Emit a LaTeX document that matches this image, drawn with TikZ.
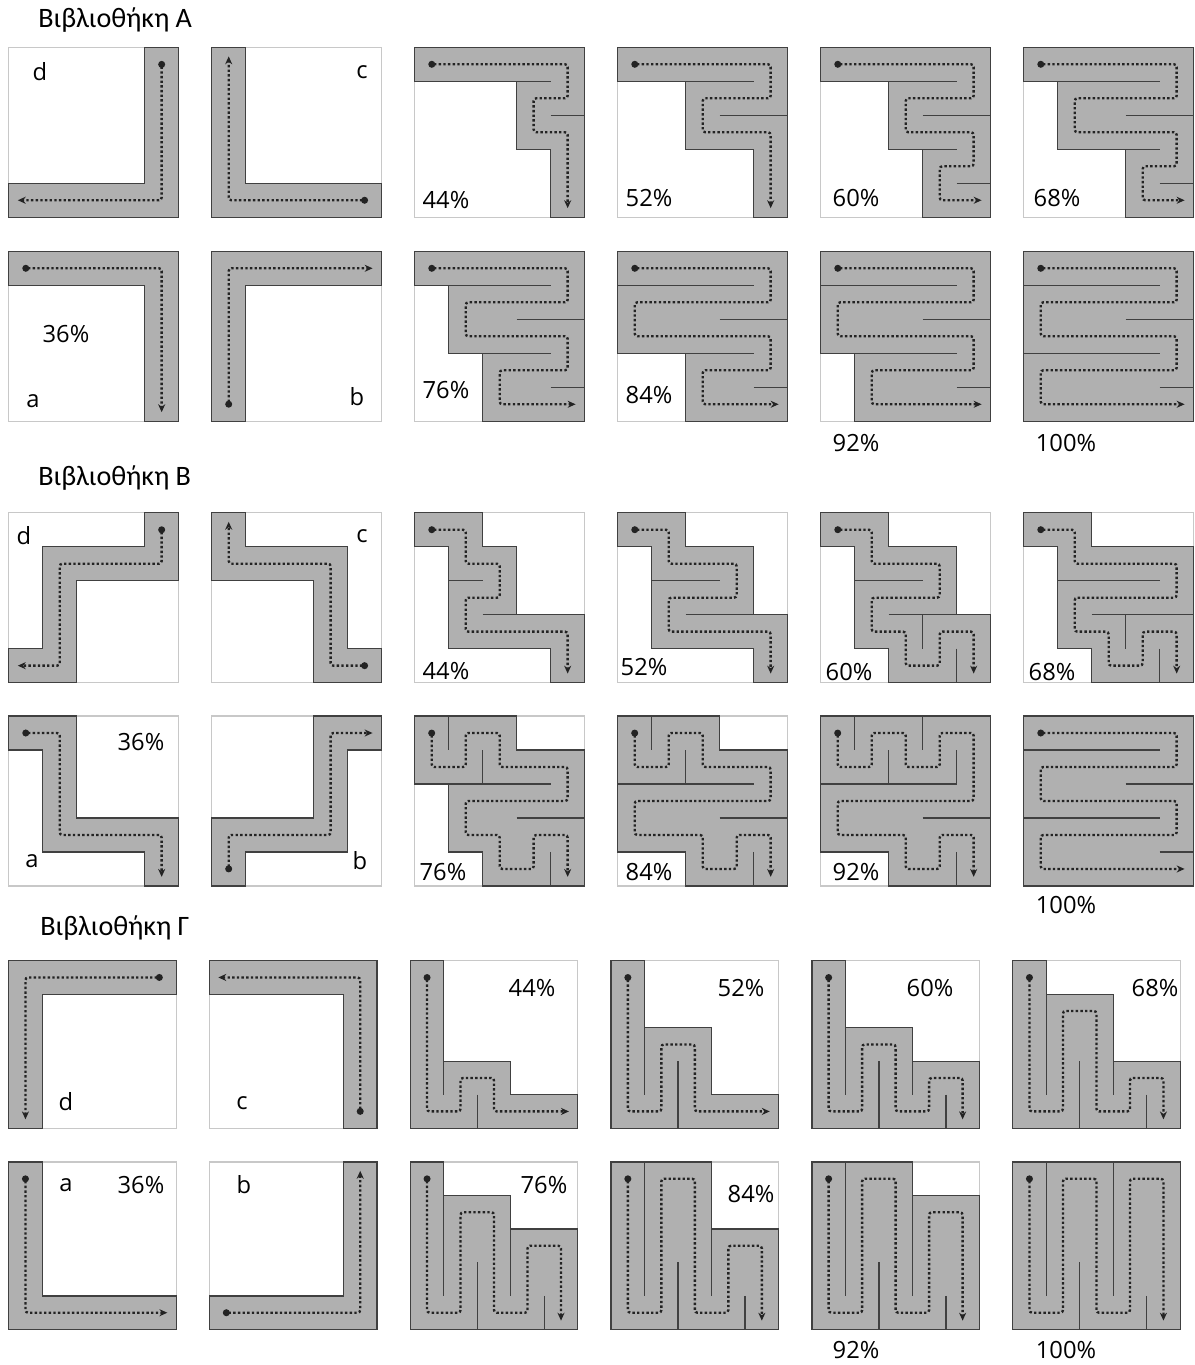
\documentclass[tikz,border=0pt]{standalone}
\usepackage{fontspec}
\setmainfont{Open Sans}
\newfontfamily\headfont{Carlito}
\usetikzlibrary{arrows.meta}

\definecolor{mazegray}{RGB}{176,176,176}
\definecolor{walldark}{RGB}{64,64,64}
\definecolor{framegray}{RGB}{200,200,200}
\definecolor{routedark}{RGB}{35,35,35}

% one 5x5 panel: #1 top-left corner, #2 cell size, #3 filled region, #4 walls, #5 route
\newcommand{\mazepanel}[5]{%
  \begin{scope}[shift={#1}]
  \begin{scope}[x=#2, y=-#2]
    \draw[panelframe] (0,0) rectangle (5,5);
    \filldraw[region] #3;
    \draw[wall] #4;
    \draw[route] #5;
  \end{scope}
  \end{scope}}

\begin{document}
\begin{tikzpicture}[x=0.02cm, y=-0.02cm,
    panelframe/.style={draw=framegray, line width=0.6pt},
    region/.style={fill=mazegray, draw=walldark, line width=0.75pt},
    wall/.style={draw=walldark, line width=0.75pt},
    route/.style={draw=routedark, line width=1.35pt, dash pattern=on 1.35pt off 1.3pt,
        rounded corners=1.5pt, {Circle[length=3.9pt]}-{Stealth[length=4.5pt, width=4pt]},
        shorten >=-4.5pt, shorten <=-1.9pt},
    pct/.style={font=\fontsize{13.5}{16}\selectfont, inner sep=0pt},
    libtitle/.style={font=\headfont\fontsize{16}{19}\selectfont, anchor=west, inner sep=0pt},
]
\useasboundingbox (0,0) rectangle (1195,1365);

% Library A, top row
\node[libtitle] (titleA) at (38,20) {Βιβλιοθήκη Α};
\mazepanel{(8.7,47.3)}{0.68cm}
  {(4,0) -- (5,0) -- (5,5) -- (0,5) -- (0,4) -- (4,4) -- cycle}{}
  {(4.5,.5) -- (4.5,4.5) -- (.5,4.5)}
\mazepanel{(211.7,47.3)}{0.68cm}
  {(0,0) -- (1,0) -- (1,4) -- (5,4) -- (5,5) -- (0,5) -- cycle}{}
  {(4.5,4.5) -- (.5,4.5) -- (.5,.5)}
\mazepanel{(414.7,47.3)}{0.68cm}
  {(0,0) -- (5,0) -- (5,5) -- (4,5) -- (4,3) -- (3,3) -- (3,1) -- (0,1) -- cycle}
  {(3,1) -- (4,1) (4,2) -- (5,2)}
  {(.5,.5) -- (4.5,.5) -- (4.5,1.5) -- (3.5,1.5) -- (3.5,2.5) -- (4.5,2.5) -- (4.5,4.5)}
\mazepanel{(617.7,47.3)}{0.68cm}
  {(0,0) -- (5,0) -- (5,5) -- (4,5) -- (4,3) -- (2,3) -- (2,1) -- (0,1) -- cycle}
  {(2,1) -- (4,1) (3,2) -- (5,2)}
  {(.5,.5) -- (4.5,.5) -- (4.5,1.5) -- (2.5,1.5) -- (2.5,2.5) -- (4.5,2.5) -- (4.5,4.5)}
\mazepanel{(820.7,47.3)}{0.68cm}
  {(0,0) -- (5,0) -- (5,5) -- (3,5) -- (3,3) -- (2,3) -- (2,1) -- (0,1) -- cycle}
  {(2,1) -- (4,1) (3,2) -- (5,2) (3,3) -- (4,3) (4,4) -- (5,4)}
  {(.5,.5) -- (4.5,.5) -- (4.5,1.5) -- (2.5,1.5) -- (2.5,2.5) -- (4.5,2.5) -- (4.5,3.5) -- (3.5,3.5) -- (3.5,4.5) -- (4.5,4.5)}
\mazepanel{(1023.7,47.3)}{0.68cm}
  {(0,0) -- (5,0) -- (5,5) -- (3,5) -- (3,3) -- (1,3) -- (1,1) -- (0,1) -- cycle}
  {(1,1) -- (4,1) (3,2) -- (5,2) (3,3) -- (4,3) (4,4) -- (5,4)}
  {(.5,.5) -- (4.5,.5) -- (4.5,1.5) -- (1.5,1.5) -- (1.5,2.5) -- (4.5,2.5) -- (4.5,3.5) -- (3.5,3.5) -- (3.5,4.5) -- (4.5,4.5)}
\node[pct] (Ad) at (40,72) {d};
\node[pct] (Ac) at (362,72) {c};
\node[pct] (A44) at (446,200) {44\%};
\node[pct] (A52) at (649,198) {52\%};
\node[pct] (A60) at (856,198) {60\%};
\node[pct] (A68) at (1057,198) {68\%};

% Library A, bottom row
\mazepanel{(8.7,251.3)}{0.68cm}
  {(0,0) -- (5,0) -- (5,5) -- (4,5) -- (4,1) -- (0,1) -- cycle}{}
  {(.5,.5) -- (4.5,.5) -- (4.5,4.5)}
\mazepanel{(211.7,251.3)}{0.68cm}
  {(0,0) -- (5,0) -- (5,1) -- (1,1) -- (1,5) -- (0,5) -- cycle}{}
  {(.5,4.5) -- (.5,.5) -- (4.5,.5)}
\mazepanel{(414.7,251.3)}{0.68cm}
  {(0,0) -- (5,0) -- (5,5) -- (2,5) -- (2,3) -- (1,3) -- (1,1) -- (0,1) -- cycle}
  {(1,1) -- (4,1) (3,2) -- (5,2) (2,3) -- (4,3) (4,4) -- (5,4)}
  {(.5,.5) -- (4.5,.5) -- (4.5,1.5) -- (1.5,1.5) -- (1.5,2.5) -- (4.5,2.5) -- (4.5,3.5) -- (2.5,3.5) -- (2.5,4.5) -- (4.5,4.5)}
\mazepanel{(617.7,251.3)}{0.68cm}
  {(0,0) -- (5,0) -- (5,5) -- (2,5) -- (2,3) -- (0,3) -- cycle}
  {(0,1) -- (4,1) (3,2) -- (5,2) (2,3) -- (4,3) (4,4) -- (5,4)}
  {(.5,.5) -- (4.5,.5) -- (4.5,1.5) -- (.5,1.5) -- (.5,2.5) -- (4.5,2.5) -- (4.5,3.5) -- (2.5,3.5) -- (2.5,4.5) -- (4.5,4.5)}
\mazepanel{(820.7,251.3)}{0.68cm}
  {(0,0) -- (5,0) -- (5,5) -- (1,5) -- (1,3) -- (0,3) -- cycle}
  {(0,1) -- (4,1) (3,2) -- (5,2) (1,3) -- (4,3) (4,4) -- (5,4)}
  {(.5,.5) -- (4.5,.5) -- (4.5,1.5) -- (.5,1.5) -- (.5,2.5) -- (4.5,2.5) -- (4.5,3.5) -- (1.5,3.5) -- (1.5,4.5) -- (4.5,4.5)}
\mazepanel{(1023.7,251.3)}{0.68cm}
  {(0,0) rectangle (5,5)}
  {(0,1) -- (4,1) (3,2) -- (5,2) (0,3) -- (4,3) (4,4) -- (5,4)}
  {(.5,.5) -- (4.5,.5) -- (4.5,1.5) -- (.5,1.5) -- (.5,2.5) -- (4.5,2.5) -- (4.5,3.5) -- (.5,3.5) -- (.5,4.5) -- (4.5,4.5)}
\node[pct] (A36) at (66,334) {36\%};
\node[pct] (Aa) at (33,401) {a};
\node[pct] (Ab) at (357,397) {b};
\node[pct] (A76) at (446,390) {76\%};
\node[pct] (A84) at (649,395) {84\%};
\node[pct] (A92) at (856,443) {92\%};
\node[pct] (A100) at (1066,443) {100\%};

% Library B, top row
\node[libtitle] (titleB) at (38,478) {Βιβλιοθήκη Β};
\mazepanel{(8.7,512.7)}{0.68cm}
  {(4,0) -- (5,0) -- (5,2) -- (2,2) -- (2,5) -- (0,5) -- (0,4) -- (1,4) -- (1,1) -- (4,1) -- cycle}{}
  {(4.5,.5) -- (4.5,1.5) -- (1.5,1.5) -- (1.5,4.5) -- (.5,4.5)}
\mazepanel{(211.7,512.7)}{0.68cm}
  {(0,0) -- (1,0) -- (1,1) -- (4,1) -- (4,4) -- (5,4) -- (5,5) -- (3,5) -- (3,2) -- (0,2) -- cycle}{}
  {(4.5,4.5) -- (3.5,4.5) -- (3.5,1.5) -- (.5,1.5) -- (.5,.5)}
\mazepanel{(414.7,512.7)}{0.68cm}
  {(0,0) -- (2,0) -- (2,1) -- (3,1) -- (3,3) -- (5,3) -- (5,5) -- (4,5) -- (4,4) -- (1,4) -- (1,1) -- (0,1) -- cycle}
  {(1,2) -- (2,2) (2,3) -- (3,3)}
  {(.5,.5) -- (1.5,.5) -- (1.5,1.5) -- (2.5,1.5) -- (2.5,2.5) -- (1.5,2.5) -- (1.5,3.5) -- (4.5,3.5) -- (4.5,4.5)}
\mazepanel{(617.7,512.7)}{0.68cm}
  {(0,0) -- (2,0) -- (2,1) -- (4,1) -- (4,3) -- (5,3) -- (5,5) -- (4,5) -- (4,4) -- (1,4) -- (1,1) -- (0,1) -- cycle}
  {(1,2) -- (3,2) (2,3) -- (4,3)}
  {(.5,.5) -- (1.5,.5) -- (1.5,1.5) -- (3.5,1.5) -- (3.5,2.5) -- (1.5,2.5) -- (1.5,3.5) -- (4.5,3.5) -- (4.5,4.5)}
\mazepanel{(820.7,512.7)}{0.68cm}
  {(0,0) -- (2,0) -- (2,1) -- (4,1) -- (4,3) -- (5,3) -- (5,5) -- (2,5) -- (2,4) -- (1,4) -- (1,1) -- (0,1) -- cycle}
  {(1,2) -- (3,2) (2,3) -- (4,3) (3,3) -- (3,4) (4,4) -- (4,5)}
  {(.5,.5) -- (1.5,.5) -- (1.5,1.5) -- (3.5,1.5) -- (3.5,2.5) -- (1.5,2.5) -- (1.5,3.5) -- (2.5,3.5) -- (2.5,4.5) -- (3.5,4.5) -- (3.5,3.5) -- (4.5,3.5) -- (4.5,4.5)}
\mazepanel{(1023.7,512.7)}{0.68cm}
  {(0,0) -- (2,0) -- (2,1) -- (5,1) -- (5,5) -- (2,5) -- (2,4) -- (1,4) -- (1,1) -- (0,1) -- cycle}
  {(1,2) -- (4,2) (2,3) -- (5,3) (3,3) -- (3,4) (4,4) -- (4,5)}
  {(.5,.5) -- (1.5,.5) -- (1.5,1.5) -- (4.5,1.5) -- (4.5,2.5) -- (1.5,2.5) -- (1.5,3.5) -- (2.5,3.5) -- (2.5,4.5) -- (3.5,4.5) -- (3.5,3.5) -- (4.5,3.5) -- (4.5,4.5)}
\node[pct] (Bd) at (24,536) {d};
\node[pct] (Bc) at (362,536) {c};
\node[pct] (B44) at (446,671) {44\%};
\node[pct] (B52) at (644,667) {52\%};
\node[pct] (B60) at (849,672) {60\%};
\node[pct] (B68) at (1052,672) {68\%};

% Library B, bottom row
\mazepanel{(8.7,716)}{0.68cm}
  {(0,0) -- (2,0) -- (2,3) -- (5,3) -- (5,5) -- (4,5) -- (4,4) -- (1,4) -- (1,1) -- (0,1) -- cycle}{}
  {(.5,.5) -- (1.5,.5) -- (1.5,3.5) -- (4.5,3.5) -- (4.5,4.5)}
\mazepanel{(211.7,716)}{0.68cm}
  {(0,3) -- (3,3) -- (3,0) -- (5,0) -- (5,1) -- (4,1) -- (4,4) -- (1,4) -- (1,5) -- (0,5) -- cycle}{}
  {(.5,4.5) -- (.5,3.5) -- (3.5,3.5) -- (3.5,.5) -- (4.5,.5)}
\mazepanel{(414.7,716)}{0.68cm}
  {(0,0) -- (3,0) -- (3,1) -- (5,1) -- (5,5) -- (2,5) -- (2,4) -- (1,4) -- (1,2) -- (0,2) -- cycle}
  {(1,0) -- (1,1) (2,1) -- (2,2) (1,2) -- (4,2) (3,3) -- (5,3) (4,4) -- (4,5)}
  {(.5,.5) -- (.5,1.5) -- (1.5,1.5) -- (1.5,.5) -- (2.5,.5) -- (2.5,1.5) -- (4.5,1.5) -- (4.5,2.5) -- (1.5,2.5) -- (1.5,3.5) -- (2.5,3.5) -- (2.5,4.5) -- (3.5,4.5) -- (3.5,3.5) -- (4.5,3.5) -- (4.5,4.5)}
\mazepanel{(617.7,716)}{0.68cm}
  {(0,0) -- (3,0) -- (3,1) -- (5,1) -- (5,5) -- (2,5) -- (2,4) -- (0,4) -- cycle}
  {(1,0) -- (1,1) (2,1) -- (2,2) (0,2) -- (4,2) (3,3) -- (5,3) (4,4) -- (4,5)}
  {(.5,.5) -- (.5,1.5) -- (1.5,1.5) -- (1.5,.5) -- (2.5,.5) -- (2.5,1.5) -- (4.5,1.5) -- (4.5,2.5) -- (.5,2.5) -- (.5,3.5) -- (2.5,3.5) -- (2.5,4.5) -- (3.5,4.5) -- (3.5,3.5) -- (4.5,3.5) -- (4.5,4.5)}
\mazepanel{(820.7,716)}{0.68cm}
  {(0,0) -- (5,0) -- (5,5) -- (2,5) -- (2,4) -- (0,4) -- cycle}
  {(1,0) -- (1,1) (3,0) -- (3,1) (2,1) -- (2,2) (4,1) -- (4,2) (0,2) -- (4,2) (3,3) -- (5,3) (4,4) -- (4,5)}
  {(.5,.5) -- (.5,1.5) -- (1.5,1.5) -- (1.5,.5) -- (2.5,.5) -- (2.5,1.5) -- (3.5,1.5) -- (3.5,.5) -- (4.5,.5) -- (4.5,2.5) -- (.5,2.5) -- (.5,3.5) -- (2.5,3.5) -- (2.5,4.5) -- (3.5,4.5) -- (3.5,3.5) -- (4.5,3.5) -- (4.5,4.5)}
\mazepanel{(1023.7,716)}{0.68cm}
  {(0,0) rectangle (5,5)}
  {(0,1) -- (4,1) (3,2) -- (5,2) (0,3) -- (4,3) (4,4) -- (5,4)}
  {(.5,.5) -- (4.5,.5) -- (4.5,1.5) -- (.5,1.5) -- (.5,2.5) -- (4.5,2.5) -- (4.5,3.5) -- (.5,3.5) -- (.5,4.5) -- (4.5,4.5)}
\node[pct] (B36) at (141,742) {36\%};
\node[pct] (Ba) at (32,861) {a};
\node[pct] (Bb) at (360,861) {b};
\node[pct] (B76) at (443,872) {76\%};
\node[pct] (B84) at (649,872) {84\%};
\node[pct] (B92) at (856,872) {92\%};
\node[pct] (B100) at (1066,905) {100\%};

% Library Gamma, top row
\node[libtitle] (titleG) at (40,928) {Βιβλιοθήκη Γ};
\mazepanel{(8.7,960.7)}{0.67cm}
  {(0,0) -- (5,0) -- (5,1) -- (1,1) -- (1,5) -- (0,5) -- cycle}{}
  {(4.5,.5) -- (.5,.5) -- (.5,4.5)}
\mazepanel{(209.5,960.7)}{0.67cm}
  {(0,0) -- (5,0) -- (5,5) -- (4,5) -- (4,1) -- (0,1) -- cycle}{}
  {(4.5,4.5) -- (4.5,.5) -- (.5,.5)}
\mazepanel{(410.3,960.7)}{0.67cm}
  {(0,0) -- (1,0) -- (1,3) -- (3,3) -- (3,4) -- (5,4) -- (5,5) -- (0,5) -- cycle}
  {(1,3) -- (1,4) (2,4) -- (2,5)}
  {(.5,.5) -- (.5,4.5) -- (1.5,4.5) -- (1.5,3.5) -- (2.5,3.5) -- (2.5,4.5) -- (4.5,4.5)}
\mazepanel{(611.1,960.7)}{0.67cm}
  {(0,0) -- (1,0) -- (1,2) -- (3,2) -- (3,4) -- (5,4) -- (5,5) -- (0,5) -- cycle}
  {(1,2) -- (1,4) (2,3) -- (2,5)}
  {(.5,.5) -- (.5,4.5) -- (1.5,4.5) -- (1.5,2.5) -- (2.5,2.5) -- (2.5,4.5) -- (4.5,4.5)}
\mazepanel{(811.9,960.7)}{0.67cm}
  {(0,0) -- (1,0) -- (1,2) -- (3,2) -- (3,3) -- (5,3) -- (5,5) -- (0,5) -- cycle}
  {(1,2) -- (1,4) (2,3) -- (2,5) (3,3) -- (3,4) (4,4) -- (4,5)}
  {(.5,.5) -- (.5,4.5) -- (1.5,4.5) -- (1.5,2.5) -- (2.5,2.5) -- (2.5,4.5) -- (3.5,4.5) -- (3.5,3.5) -- (4.5,3.5) -- (4.5,4.5)}
\mazepanel{(1012.7,960.7)}{0.67cm}
  {(0,0) -- (1,0) -- (1,1) -- (3,1) -- (3,3) -- (5,3) -- (5,5) -- (0,5) -- cycle}
  {(1,1) -- (1,4) (2,3) -- (2,5) (3,3) -- (3,4) (4,4) -- (4,5)}
  {(.5,.5) -- (.5,4.5) -- (1.5,4.5) -- (1.5,1.5) -- (2.5,1.5) -- (2.5,4.5) -- (3.5,4.5) -- (3.5,3.5) -- (4.5,3.5) -- (4.5,4.5)}
\node[pct] (Gd) at (66,1102) {d};
\node[pct] (Gc) at (242,1103) {c};
\node[pct] (G44) at (532,988) {44\%};
\node[pct] (G52) at (741,988) {52\%};
\node[pct] (G60) at (930,988) {60\%};
\node[pct] (G68) at (1155,988) {68\%};

% Library Gamma, bottom row
\mazepanel{(8.7,1162)}{0.67cm}
  {(0,0) -- (1,0) -- (1,4) -- (5,4) -- (5,5) -- (0,5) -- cycle}{}
  {(.5,.5) -- (.5,4.5) -- (4.5,4.5)}
\mazepanel{(209.5,1162)}{0.67cm}
  {(4,0) -- (5,0) -- (5,5) -- (0,5) -- (0,4) -- (4,4) -- cycle}{}
  {(.5,4.5) -- (4.5,4.5) -- (4.5,.5)}
\mazepanel{(410.3,1162)}{0.67cm}
  {(0,0) -- (1,0) -- (1,1) -- (3,1) -- (3,2) -- (5,2) -- (5,5) -- (0,5) -- cycle}
  {(1,1) -- (1,4) (2,3) -- (2,5) (3,2) -- (3,4) (4,4) -- (4,5)}
  {(.5,.5) -- (.5,4.5) -- (1.5,4.5) -- (1.5,1.5) -- (2.5,1.5) -- (2.5,4.5) -- (3.5,4.5) -- (3.5,2.5) -- (4.5,2.5) -- (4.5,4.5)}
\mazepanel{(611.1,1162)}{0.67cm}
  {(0,0) -- (3,0) -- (3,2) -- (5,2) -- (5,5) -- (0,5) -- cycle}
  {(1,0) -- (1,4) (2,3) -- (2,5) (3,2) -- (3,4) (4,4) -- (4,5)}
  {(.5,.5) -- (.5,4.5) -- (1.5,4.5) -- (1.5,.5) -- (2.5,.5) -- (2.5,4.5) -- (3.5,4.5) -- (3.5,2.5) -- (4.5,2.5) -- (4.5,4.5)}
\mazepanel{(811.9,1162)}{0.67cm}
  {(0,0) -- (3,0) -- (3,1) -- (5,1) -- (5,5) -- (0,5) -- cycle}
  {(1,0) -- (1,4) (2,3) -- (2,5) (3,1) -- (3,4) (4,4) -- (4,5)}
  {(.5,.5) -- (.5,4.5) -- (1.5,4.5) -- (1.5,.5) -- (2.5,.5) -- (2.5,4.5) -- (3.5,4.5) -- (3.5,1.5) -- (4.5,1.5) -- (4.5,4.5)}
\mazepanel{(1012.7,1162)}{0.67cm}
  {(0,0) rectangle (5,5)}
  {(1,0) -- (1,4) (2,3) -- (2,5) (3,0) -- (3,4) (4,4) -- (4,5)}
  {(.5,.5) -- (.5,4.5) -- (1.5,4.5) -- (1.5,.5) -- (2.5,.5) -- (2.5,4.5) -- (3.5,4.5) -- (3.5,.5) -- (4.5,.5) -- (4.5,4.5)}
\node[pct] (Ga) at (66,1185) {a};
\node[pct] (G36) at (141,1185) {36\%};
\node[pct] (Gb) at (244,1185) {b};
\node[pct] (G76) at (544,1185) {76\%};
\node[pct] (G84) at (751,1194) {84\%};
\node[pct] (G92) at (856,1350) {92\%};
\node[pct] (G100) at (1066,1350) {100\%};
\end{tikzpicture}
\end{document}
